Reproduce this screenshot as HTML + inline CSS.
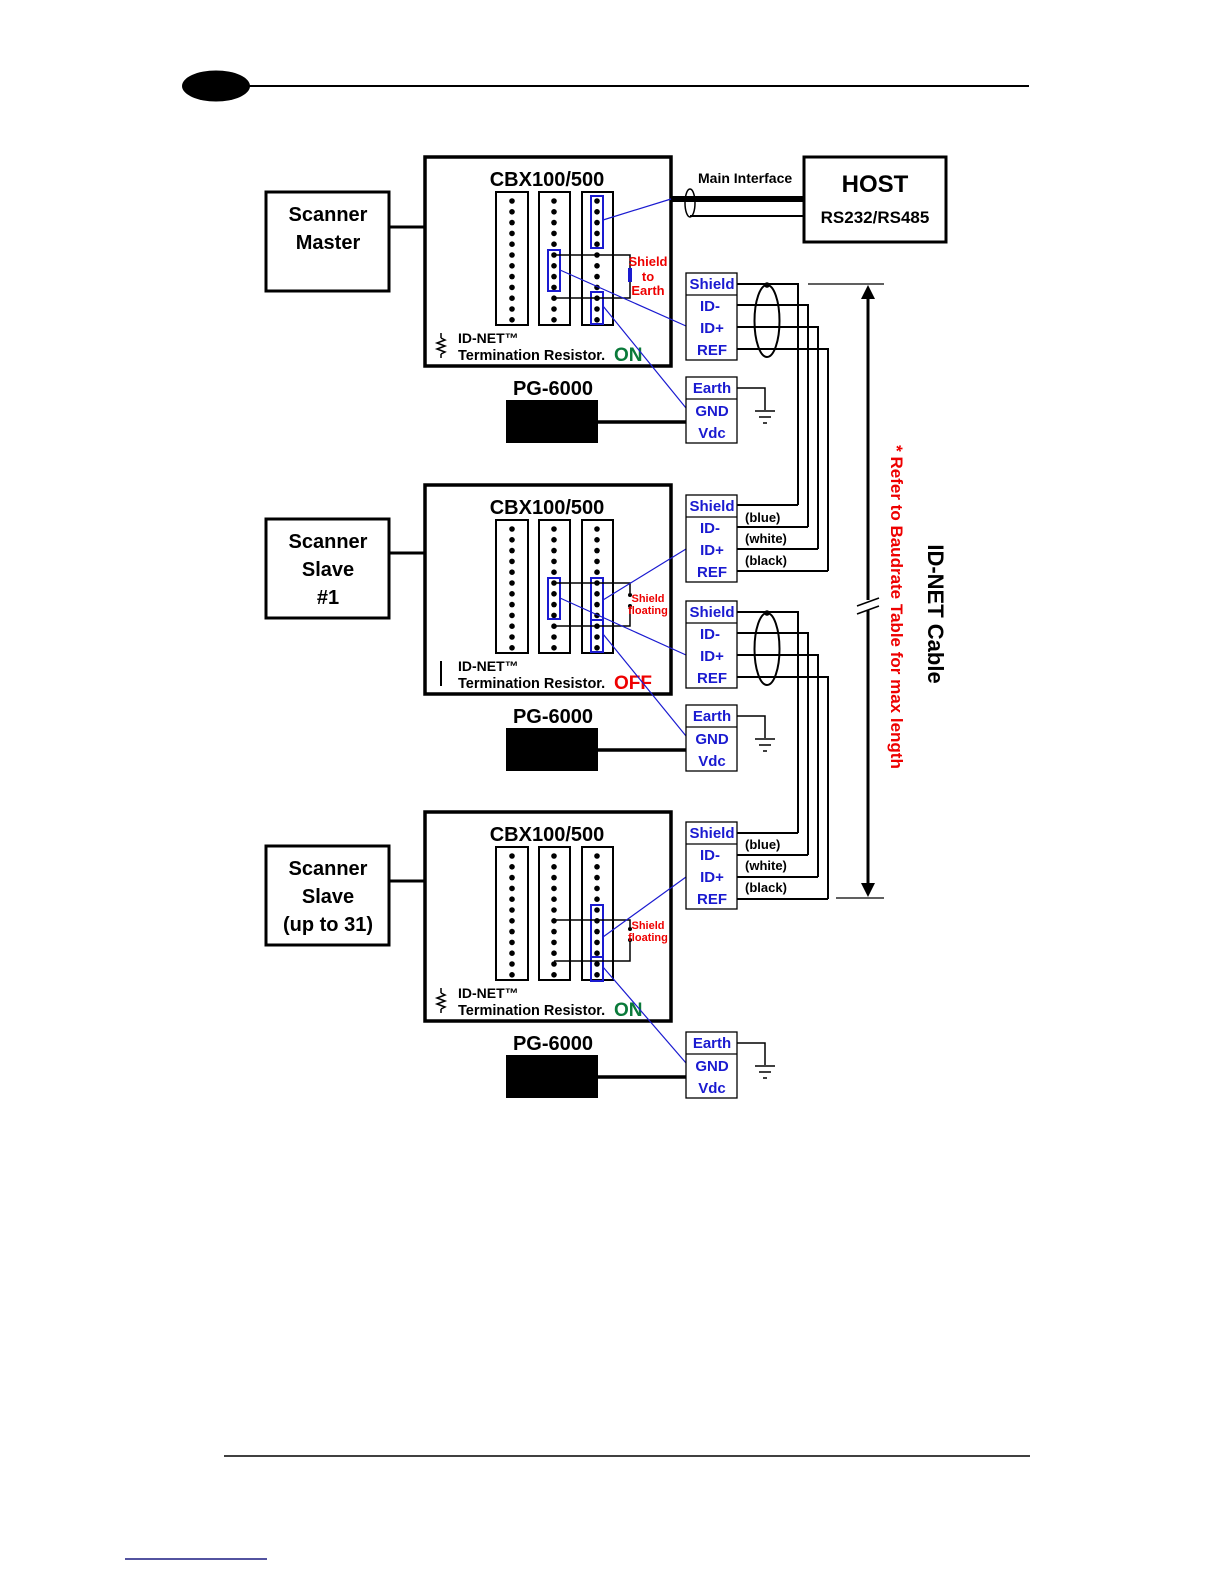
<!DOCTYPE html>
<html><head><meta charset="utf-8"><style>
html,body{margin:0;padding:0;background:#fff;}
svg{display:block;font-family:"Liberation Sans",Arial,sans-serif;font-weight:bold;}
</style></head><body>
<svg width="1224" height="1584" viewBox="0 0 1224 1584" xmlns="http://www.w3.org/2000/svg">
<defs>
 <g id="dc">
  <circle cx="0" cy="201" r="2.8"/><circle cx="0" cy="211.8" r="2.8"/><circle cx="0" cy="222.6" r="2.8"/><circle cx="0" cy="233.4" r="2.8"/><circle cx="0" cy="244.2" r="2.8"/><circle cx="0" cy="255" r="2.8"/><circle cx="0" cy="265.8" r="2.8"/><circle cx="0" cy="276.6" r="2.8"/><circle cx="0" cy="287.4" r="2.8"/><circle cx="0" cy="298.2" r="2.8"/><circle cx="0" cy="309" r="2.8"/><circle cx="0" cy="319.8" r="2.8"/>
 </g>
 <g id="cbx">
  <rect x="425" y="157" width="246" height="209" fill="none" stroke="#000" stroke-width="3.5"/>
  <text x="547" y="186" font-size="20" text-anchor="middle">CBX100/500</text>
  <rect x="496" y="192" width="32" height="133" fill="none" stroke="#000" stroke-width="2"/>
  <rect x="539" y="192" width="31" height="133" fill="none" stroke="#000" stroke-width="2"/>
  <rect x="582" y="192" width="31" height="133" fill="none" stroke="#000" stroke-width="2"/>
  <use href="#dc" x="512"/><use href="#dc" x="554"/><use href="#dc" x="597"/>
  <text x="458" y="343" font-size="14">ID-NET™</text>
  <text x="458" y="360" font-size="14.5">Termination Resistor.</text>
 </g>
 <g id="side">
  <rect x="686" y="273" width="51" height="87" fill="#fff" stroke="#000" stroke-width="1.3"/>
  <line x1="686" y1="295" x2="737" y2="295" stroke="#000" stroke-width="1.3"/>
  <g fill="#1a1ad0" font-size="15" text-anchor="middle">
   <text x="712" y="289">Shield</text><text x="710" y="311">ID-</text><text x="712" y="333">ID+</text><text x="712" y="355">REF</text>
  </g>
 </g>
 <g id="pwr">
  <rect x="686" y="377" width="51" height="66" fill="#fff" stroke="#000" stroke-width="1.3"/>
  <line x1="686" y1="399" x2="737" y2="399" stroke="#000" stroke-width="1.3"/>
  <g fill="#1a1ad0" font-size="15" text-anchor="middle">
   <text x="712" y="393">Earth</text><text x="712" y="416">GND</text><text x="712" y="438">Vdc</text>
  </g>
  <polyline points="737,388 765,388 765,410" fill="none" stroke="#000" stroke-width="1.5"/>
  <line x1="755" y1="411" x2="775" y2="411" stroke="#000" stroke-width="1.5"/>
  <line x1="759" y1="417" x2="771" y2="417" stroke="#000" stroke-width="1.5"/>
  <line x1="763" y1="423" x2="767" y2="423" stroke="#000" stroke-width="1.5"/>
  <text x="553" y="395" font-size="20" text-anchor="middle">PG-6000</text>
  <rect x="506" y="400" width="92" height="43" fill="#000"/>
  <line x1="598" y1="422" x2="686" y2="422" stroke="#000" stroke-width="3.5"/>
 </g>
 <g id="inc">
  <rect x="686" y="167" width="51" height="87" fill="#fff" stroke="#000" stroke-width="1.3"/>
  <line x1="686" y1="189" x2="737" y2="189" stroke="#000" stroke-width="1.3"/>
  <g fill="#1a1ad0" font-size="15" text-anchor="middle">
   <text x="712" y="183">Shield</text><text x="710" y="205">ID-</text><text x="712" y="227">ID+</text><text x="712" y="249">REF</text>
  </g>
  <g font-size="13"><text x="745" y="194">(blue)</text><text x="745" y="215">(white)</text><text x="745" y="237">(black)</text></g>
 </g>
 <g id="cable" fill="none" stroke="#000" stroke-width="2">
  <polyline points="737,284 798,284 798,505"/>
  <polyline points="737,305 808,305 808,527"/>
  <polyline points="737,327 818,327 818,549"/>
  <polyline points="737,349 828,349 828,571"/>
  <line x1="737" y1="505" x2="798" y2="505"/>
  <line x1="737" y1="527" x2="808" y2="527"/>
  <line x1="737" y1="549" x2="818" y2="549"/>
  <line x1="737" y1="571" x2="828" y2="571"/>
  <ellipse cx="767" cy="321" rx="12.5" ry="36"/>
  <circle cx="767" cy="285" r="1.8" fill="#000"/>
 </g>
 <g id="resz" fill="none" stroke="#000" stroke-width="1.5">
  <line x1="441" y1="333" x2="441" y2="338"/>
  <polyline points="441,338 445,340 437,343 445,346 437,349 445,352 441,354"/>
  <line x1="441" y1="354" x2="441" y2="358"/>
 </g>
</defs>

<ellipse cx="216" cy="86" rx="34" ry="15.5" fill="#000"/>
<line x1="248" y1="86" x2="1029" y2="86" stroke="#000" stroke-width="2"/>

<g fill="none" stroke="#000" stroke-width="3">
 <rect x="266" y="192" width="123" height="99"/>
 <rect x="266" y="519" width="123" height="99"/>
 <rect x="266" y="846" width="123" height="99"/>
 <line x1="389" y1="227" x2="425" y2="227"/>
 <line x1="389" y1="553" x2="425" y2="553"/>
 <line x1="389" y1="881" x2="425" y2="881"/>
</g>
<g font-size="20" text-anchor="middle">
 <text x="328" y="221">Scanner</text><text x="328" y="249">Master</text>
 <text x="328" y="548">Scanner</text><text x="328" y="576">Slave</text><text x="328" y="604">#1</text>
 <text x="328" y="875">Scanner</text><text x="328" y="903">Slave</text><text x="328" y="931">(up to 31)</text>
</g>

<rect x="804" y="157" width="142" height="85" fill="none" stroke="#000" stroke-width="3"/>
<text x="875" y="192" font-size="24" text-anchor="middle">HOST</text>
<text x="875" y="223" font-size="17" text-anchor="middle">RS232/RS485</text>
<text x="698" y="183" font-size="14">Main Interface</text>
<line x1="671" y1="199" x2="804" y2="199" stroke="#000" stroke-width="6"/>
<line x1="690" y1="216" x2="804" y2="216" stroke="#000" stroke-width="2"/>
<ellipse cx="690" cy="203" rx="5" ry="14" fill="none" stroke="#000" stroke-width="1.5"/>

<!-- Level 1 -->
<use href="#cbx"/>
<use href="#resz"/>
<text x="614" y="361" font-size="19" fill="#0a7a3a">ON</text>
<g fill="none" stroke="#1a1ad0" stroke-width="2">
 <rect x="591" y="196" width="12" height="52"/>
 <rect x="548" y="250" width="12" height="41"/>
 <rect x="591" y="292" width="12" height="32"/>
</g>
<polyline points="554,255 630,255 630,298 554,298" fill="none" stroke="#000" stroke-width="1.5"/>
<rect x="628" y="268" width="4" height="14" fill="#1a1ad0"/>
<g fill="#e00" font-size="13" text-anchor="middle"><text x="648" y="266">Shield</text><text x="648" y="281">to</text><text x="648" y="295">Earth</text></g>
<g stroke="#1a1ad0" stroke-width="1.2">
 <line x1="603" y1="220" x2="671" y2="199"/>
 <line x1="560" y1="270" x2="686" y2="326"/>
 <line x1="603" y1="306" x2="686" y2="408"/>
</g>
<use href="#side"/><use href="#pwr"/><use href="#cable"/>

<!-- Level 2 -->
<g transform="translate(0,328)">
 <use href="#cbx"/>
 <line x1="441" y1="333" x2="441" y2="358" stroke="#000" stroke-width="2"/>
 <text x="614" y="361" font-size="19" fill="#e00">OFF</text>
 <g fill="none" stroke="#1a1ad0" stroke-width="2">
  <rect x="548" y="250" width="12" height="41"/>
  <rect x="591" y="250" width="12" height="42"/>
  <rect x="591" y="292" width="12" height="32"/>
 </g>
 <polyline points="554,255 630,255 630,265" fill="none" stroke="#000" stroke-width="1.5"/>
 <polyline points="630,280 630,298 554,298" fill="none" stroke="#000" stroke-width="1.5"/>
 <circle cx="630" cy="267" r="2" fill="#000"/><circle cx="630" cy="278" r="2" fill="#000"/>
 <g fill="#e00" font-size="11" text-anchor="middle"><text x="648" y="274">Shield</text><text x="648" y="286">floating</text></g>
 <g stroke="#1a1ad0" stroke-width="1.2">
  <line x1="603" y1="272" x2="686" y2="221"/>
  <line x1="560" y1="270" x2="686" y2="327"/>
  <line x1="603" y1="306" x2="686" y2="408"/>
 </g>
 <use href="#inc"/><use href="#side"/><use href="#pwr"/><use href="#cable"/>
</g>

<!-- Level 3 -->
<g transform="translate(0,655)">
 <use href="#cbx"/>
 <use href="#resz"/>
 <text x="614" y="361" font-size="19" fill="#0a7a3a">ON</text>
 <g fill="none" stroke="#1a1ad0" stroke-width="2">
  <rect x="591" y="250" width="12" height="52"/>
  <rect x="591" y="302" width="12" height="24"/>
 </g>
 <polyline points="554,265 630,265 630,272" fill="none" stroke="#000" stroke-width="1.5"/>
 <polyline points="630,286 630,306 554,306" fill="none" stroke="#000" stroke-width="1.5"/>
 <circle cx="630" cy="274" r="2" fill="#000"/><circle cx="630" cy="285" r="2" fill="#000"/>
 <g fill="#e00" font-size="11" text-anchor="middle"><text x="648" y="274">Shield</text><text x="648" y="286">floating</text></g>
 <g stroke="#1a1ad0" stroke-width="1.2">
  <line x1="603" y1="282" x2="686" y2="222"/>
  <line x1="603" y1="312" x2="686" y2="408"/>
 </g>
 <use href="#inc"/><use href="#pwr"/>
</g>

<line x1="808" y1="284" x2="884" y2="284" stroke="#000" stroke-width="1.3"/>
<line x1="836" y1="898" x2="884" y2="898" stroke="#000" stroke-width="1.3"/>
<line x1="868" y1="296" x2="868" y2="886" stroke="#000" stroke-width="3"/>
<polygon points="868,285 861,299 875,299" fill="#000"/>
<polygon points="868,897 861,883 875,883" fill="#000"/>
<rect x="864" y="600" width="8" height="10" fill="#fff"/>
<line x1="857" y1="606" x2="879" y2="598" stroke="#000" stroke-width="1.5"/>
<line x1="857" y1="614" x2="879" y2="606" stroke="#000" stroke-width="1.5"/>
<text transform="translate(891,607) rotate(90)" font-size="17" fill="#e00" text-anchor="middle">* Refer to Baudrate Table for max length</text>
<text transform="translate(928,614) rotate(90)" font-size="22" fill="#000" text-anchor="middle">ID-NET Cable</text>

<line x1="224" y1="1456" x2="1030" y2="1456" stroke="#000" stroke-width="1.5"/>
<line x1="125" y1="1559" x2="267" y2="1559" stroke="#1a1a80" stroke-width="1.5"/>
</svg>
</body></html>
